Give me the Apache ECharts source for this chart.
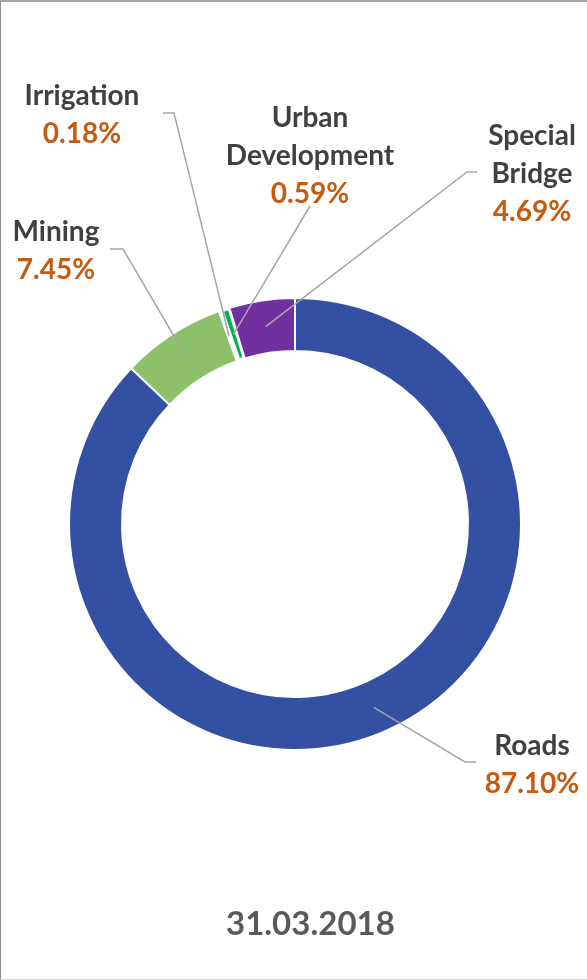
<!DOCTYPE html>
<html lang="en">
<head>
    <meta charset="UTF-8">
    <title>31.03.2018</title>
    <script src="https://cdn.jsdelivr.net/npm/echarts@6/dist/echarts.min.js"></script>
    <style>
        html, body { margin: 0; padding: 0; background: #fff; }
        #frame {
            position: absolute; left: 0; top: 0; width: 586px; height: 977px;
            border-left: 1px solid #8c8c8c; border-top: 2px solid #a6a6a6; border-bottom: 1px solid #d0d0d0;
        }
        #chart { position: absolute; left: 0; top: 0; width: 587px; height: 980px; }
    </style>
</head>
<body>
<div id="frame"></div>
<div id="chart"></div>
<script>
    // data
    var categories = ['Roads', 'Mining', 'Irrigation', 'Urban\nDevelopment', 'Special\nBridge'];
    var shares = [87.10, 7.45, 0.18, 0.59, 4.69];
    var colors = ['#3450a3', '#8cc16a', '#ffffff', '#00b050', '#7030a0'];
    var titleText = '31.03.2018';

    // label placement (label centre, leader start, leader kink)
    var labelPos = [[532, 765], [56, 251], [82, 115], [310, 156], [532, 174]];
    var lineStart = [[476, 762], [110, 249], [163, 113], [310, 206], [477, 172]];
    var lineKink = [[465, 762], [123, 249], [174, 113], [310, 206], [467, 172]];

    var cx = 295, cy = 524, r0 = 173, r1 = 226;
    var total = shares.reduce(function (a, b) { return a + b; }, 0);

    // point in the middle of a slice (clockwise from 12 o'clock)
    function slicePoint(i) {
        var before = 0;
        for (var k = 0; k < i; k++) before += shares[k];
        var a = (before + shares[i] / 2) / total * Math.PI * 2;
        var rm = (r0 + r1) / 2;
        return [cx + rm * Math.sin(a), cy - rm * Math.cos(a)];
    }

    var labelFont = { fontFamily: 'Lato', fontWeight: 'bold', fontSize: 28, lineHeight: 38, align: 'center' };

    var chart = echarts.init(document.getElementById('chart'));
    chart.setOption({
        animation: false,
        title: {
            text: titleText, left: 221, top: 903,
            textStyle: { fontFamily: 'Lato', fontWeight: 'bold', fontSize: 33, color: '#595959' }
        },
        series: [{
            // the ring
            type: 'pie',
            z: 2,
            center: [cx, cy],
            radius: [r0, r1],
            startAngle: 90,
            silent: true,
            data: categories.map(function (c, i) {
                var d = { name: c, value: shares[i], itemStyle: { color: colors[i] } };
                if (i === 3) d.itemStyle.borderWidth = 4;
                return d;
            }),
            itemStyle: { borderColor: '#ffffff', borderWidth: 2 },
            label: { show: false },
            labelLine: { show: false }
        }, {
            // labels and leader lines drawn over the ring
            type: 'pie',
            z: 5,
            center: [cx, cy],
            radius: [r0, r1],
            startAngle: 90,
            silent: true,
            avoidLabelOverlap: false,
            data: categories.map(function (c, i) {
                return { name: c, value: shares[i] };
            }),
            itemStyle: { color: 'rgba(0,0,0,0)', borderWidth: 0 },
            label: {
                show: true,
                position: 'outside',
                formatter: function (p) {
                    return '{n|' + p.name + '}\n{v|' + p.value.toFixed(2) + '%}';
                },
                rich: {
                    n: Object.assign({ color: '#404040' }, labelFont),
                    v: Object.assign({ color: '#c55a11' }, labelFont)
                }
            },
            labelLine: { show: true, lineStyle: { color: '#a6a6a6', width: 1.5 } },
            labelLayout: function (params) {
                var i = params.dataIndex;
                return {
                    x: labelPos[i][0],
                    y: labelPos[i][1],
                    align: 'center',
                    verticalAlign: 'middle',
                    labelLinePoints: [slicePoint(i), lineKink[i], lineStart[i]]
                };
            }
        }]
    });
</script>
</body>
</html>
